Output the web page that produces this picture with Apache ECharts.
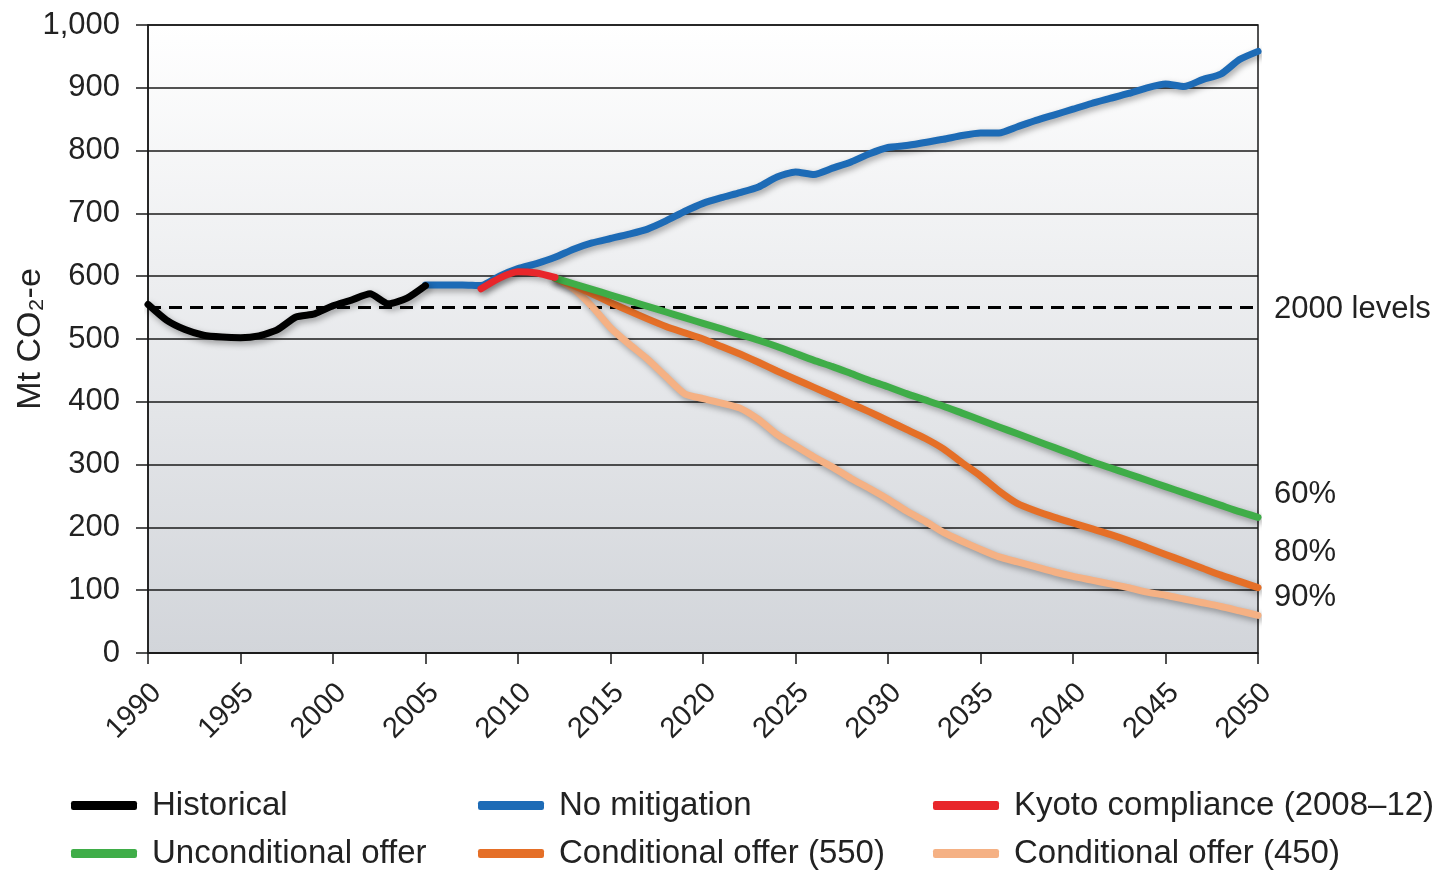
<!DOCTYPE html>
<html>
<head>
<meta charset="utf-8">
<script src="https://cdn.jsdelivr.net/npm/echarts@6/dist/echarts.min.js"></script>
<style>
html, body { margin: 0; padding: 0; background: #fff; }
#chart { width: 1442px; height: 872px; }
</style>
</head>
<body>
<div id="chart"></div>
<script>
// values in Mt CO2-e, one per year
const historicalYears = [1990, 2005];
const historical = [555, 530, 515, 506, 503, 502, 505, 515, 535, 540, 553, 562, 572, 556, 565, 585];

const noMitigationYears = [2005, 2050];
const noMitigation = [586, 586, 586, 585, 600, 612, 620, 630, 643, 653,
    660, 667, 675, 688, 703, 716, 725, 733, 742, 758,
    766, 762, 772, 782, 795, 805, 808, 813, 818, 824,
    828, 828, 838, 848, 857, 866, 875, 883, 891, 900,
    906, 902, 913, 922, 945, 958];

const kyotoYears = [2008, 2012];
const kyoto = [580, 597, 607, 605, 598];

const offerYears = [2012, 2050];
const unconditional = [597, 588, 579, 570, 561, 552, 543, 534, 525, 516,
    507, 498, 488, 477, 466, 456, 445, 434, 424, 413,
    403, 393, 382, 371, 360, 349, 338, 327, 316, 305,
    295, 285, 275, 265, 255, 245, 235, 225, 216];
const conditional550 = [597, 585, 572, 558, 545, 532, 520, 510, 500, 488,
    476, 463, 449, 436, 423, 410, 397, 384, 370, 356,
    342, 325, 303, 282, 258, 238, 226, 216, 207, 198,
    189, 179, 168, 157, 146, 135, 124, 114, 104];
const conditional450 = [597, 580, 552, 518, 492, 468, 440, 413, 405, 398,
    390, 372, 348, 330, 312, 296, 278, 262, 245, 226,
    210, 192, 178, 165, 153, 145, 137, 129, 122, 116,
    110, 104, 97, 92, 86, 80, 74, 67, 60];

// 2000 levels reference line, drawn across the whole period
const levelYears = [1990, 2050];
const levels2000 = [550, 550];
const endLabels = ['60%', '80%', '90%'];

function toPairs(range, vals) {
    return vals.map((v, i) => [range[0] + i, v]);
}

const font = "'Liberation Sans', Arial, sans-serif";

function lineSeries(name, color, range, vals, extra) {
    return Object.assign({
        name: name,
        type: 'line',
        data: toPairs(range, vals),
        showSymbol: false,
        smooth: 0.2,
        color: color,
        lineStyle: {
            color: color, width: 7, cap: 'round', join: 'round',
            shadowColor: 'rgba(0,0,0,0.35)', shadowBlur: 6, shadowOffsetX: 2, shadowOffsetY: 3
        }
    }, extra || {});
}

function pctLabel(text, dy) {
    return {
        show: true, formatter: text, offset: [8, dy],
        fontFamily: font, fontSize: 31, color: '#222'
    };
}

const chart = echarts.init(document.getElementById('chart'));
const option = {
    animation: false,
    backgroundColor: '#fff',
    grid: {
        left: 148, right: 184, top: 25, bottom: 219,
        outerBoundsMode: 'none',
        show: true,
        borderColor: '#1a1a1a', borderWidth: 1.5,
        backgroundColor: {
            type: 'linear', x: 0, y: 0, x2: 0, y2: 1,
            colorStops: [{ offset: 0, color: '#ffffff' }, { offset: 1, color: '#d2d5da' }]
        }
    },
    xAxis: {
        type: 'value', min: 1990, max: 2050, interval: 5,
        axisLine: { lineStyle: { color: '#1a1a1a', width: 1.5 } },
        axisTick: { show: true, length: 11, lineStyle: { color: '#1a1a1a', width: 1.5 } },
        axisLabel: {
            rotate: 45, margin: 44, align: 'center', verticalAlign: 'middle',
            padding: [0, 40, 0, 0],
            fontFamily: font, fontSize: 29, color: '#222', formatter: v => String(v)
        },
        splitLine: { show: false }
    },
    yAxis: {
        type: 'value', min: 0, max: 1000, interval: 100,
        name: 'Mt CO\u2082-e', nameLocation: 'middle', nameGap: 100,
        nameMoveOverlap: false,
        nameTextStyle: { fontFamily: font, fontSize: 34, color: '#222' },
        axisLine: { show: true, lineStyle: { color: '#1a1a1a', width: 1.5 } },
        axisTick: { show: true, length: 12, lineStyle: { color: '#1a1a1a', width: 1.5 } },
        axisLabel: {
            margin: 28, fontFamily: font, fontSize: 31, color: '#222',
            formatter: v => v.toLocaleString('en-US')
        },
        splitLine: { show: true, lineStyle: { color: '#1a1a1a', width: 1.5 } }
    },
    legend: [
        { data: ['Historical', 'Unconditional offer'], left: 66 },
        { data: ['No mitigation', 'Conditional offer (550)'], left: 473 },
        { data: ['Kyoto compliance (2008\u201312)', 'Conditional offer (450)'], left: 928 }
    ].map(l => Object.assign({
        orient: 'vertical', top: 784, height: 120, itemGap: 15,
        icon: 'roundRect', itemWidth: 66, itemHeight: 9,
        textStyle: { fontFamily: font, fontSize: 33, color: '#222', padding: [0, 0, 0, 10] }
    }, l)),
    series: [
        {
            name: '2000 levels', type: 'line',
            data: levelYears.map((y, i) => [y, levels2000[i]]),
            showSymbol: false,
            lineStyle: { color: '#000', width: 3, type: [13, 8] },
            endLabel: { show: true, formatter: '2000 levels', offset: [8, 2], fontFamily: font, fontSize: 31, color: '#222' },
            z: 1
        },
        lineSeries('Conditional offer (450)', '#f5b184', offerYears, conditional450, { endLabel: pctLabel(endLabels[2], -18), z: 2 }),
        lineSeries('Conditional offer (550)', '#e56f27', offerYears, conditional550, { endLabel: pctLabel(endLabels[1], -35), z: 3 }),
        lineSeries('Unconditional offer', '#3fad48', offerYears, unconditional, { endLabel: pctLabel(endLabels[0], -23), z: 4 }),
        lineSeries('No mitigation', '#1d6bb6', noMitigationYears, noMitigation, { z: 5 }),
        lineSeries('Kyoto compliance (2008\u201312)', '#e8262b', kyotoYears, kyoto, { z: 6 }),
        lineSeries('Historical', '#000000', historicalYears, historical, { z: 7 })
    ]
};
chart.setOption(option);
window.addEventListener('resize', () => chart.resize());
</script>
</body>
</html>
